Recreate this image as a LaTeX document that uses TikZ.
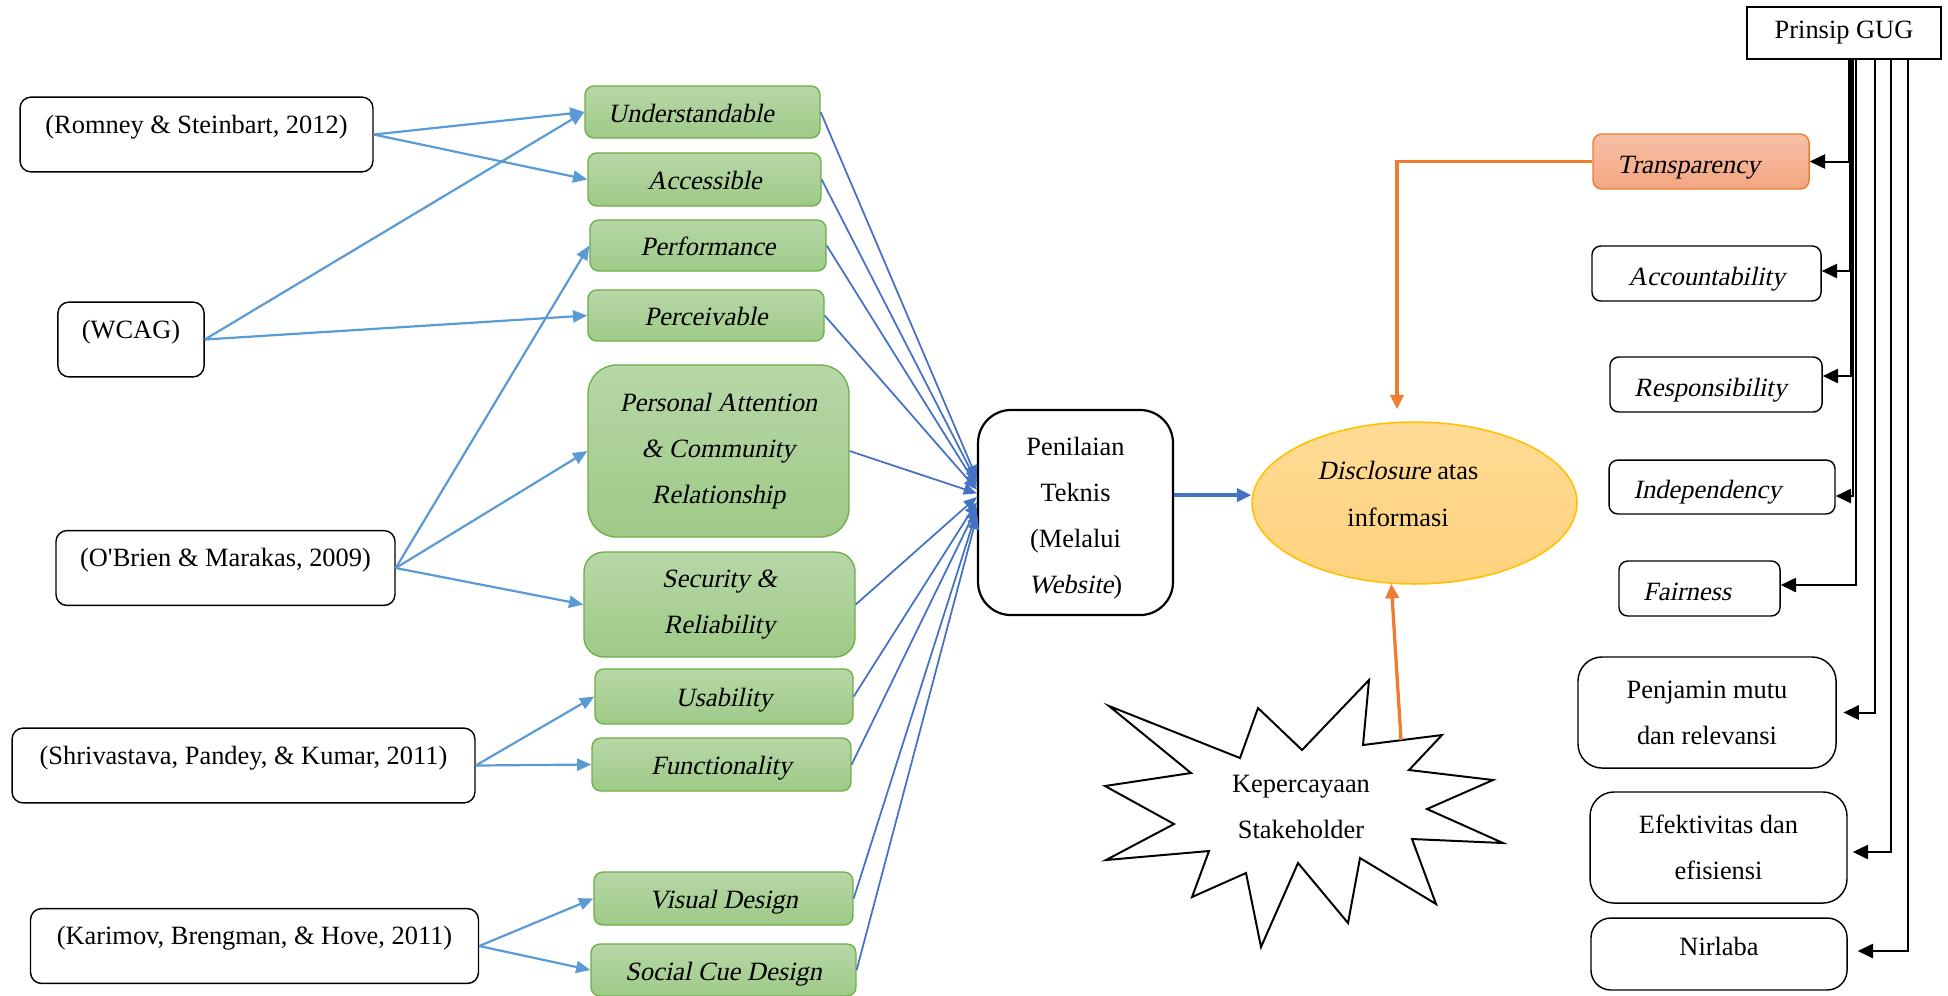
\documentclass[tikz,border=0pt]{standalone}
\usepackage{fontspec}
\setmainfont{Liberation Serif}[ItalicFont={Liberation Serif}, ItalicFeatures={FakeSlant=0.21}]
\usetikzlibrary{calc,shapes.geometric,arrows.meta}

\definecolor{refblue}{RGB}{91,155,213}
\definecolor{penblue}{RGB}{68,114,196}
\definecolor{accorange}{RGB}{237,125,49}
\definecolor{critgreen}{RGB}{112,173,71}
\definecolor{crittop}{RGB}{183,215,167}
\definecolor{critbot}{RGB}{158,202,135}
\definecolor{transtop}{RGB}{247,192,166}
\definecolor{transbot}{RGB}{243,166,130}
\definecolor{disctop}{RGB}{255,219,150}
\definecolor{discbot}{RGB}{255,210,125}
\definecolor{discline}{RGB}{255,192,0}

\newcommand{\diagfont}{\fontsize{12}{21}\selectfont}

\tikzset{
  refbox/.style={draw, line width=0.65pt, rounded corners=5pt, inner sep=0pt,
    text height=16.4pt, text depth=17.6pt, font=\diagfont},
  critbox/.style={draw=critgreen, line width=0.6pt, rounded corners=4pt,
    top color=crittop, bottom color=critbot, inner sep=0pt, align=center,
    font=\diagfont\itshape},
  oneline/.style={text height=9.5pt, text depth=0pt},
  gugbox/.style={draw, line width=0.65pt, rounded corners=4pt, inner sep=0pt,
    align=center, font=\diagfont\itshape, text height=10.5pt, text depth=0pt},
  leftin/.style={align=left, inner xsep=11pt},
  plainbox/.style={draw, line width=0.65pt, rounded corners=11pt, inner sep=0pt,
    align=center, font=\diagfont},
  refarrow/.style={-{Triangle[length=6.5pt,width=5.5pt]}, refblue, line width=1pt},
  penarrow/.style={-{Triangle[length=6pt,width=5pt]}, penblue, line width=0.8pt},
  gugarrow/.style={-{Triangle[length=7pt,width=6.5pt]}, line width=0.9pt},
  orangearrow/.style={-{Triangle[length=6.5pt,width=6pt]}, accorange, line width=1.5pt}
}

\begin{document}
\begin{tikzpicture}[x=0.4545pt, y=-0.4545pt]
\useasboundingbox (0,0) rectangle (1948,995);

% --- Sources ---
\node[refbox, minimum width=160.4pt] (rom) at (196.5,134.5) {(Romney \& Steinbart, 2012)};
\node[refbox, minimum width=66.4pt] (wcag) at (131,339.5) {(WCAG)};
\node[refbox, minimum width=154.1pt] (obr) at (225.5,568) {(O\textquotesingle Brien \& Marakas, 2009)};
\node[refbox, minimum width=210.4pt] (shr) at (243.5,765.5) {(Shrivastava, Pandey, \& Kumar, 2011)};
\node[refbox, minimum width=203.6pt] (kar) at (254.5,946) {(Karimov, Brengman, \& Hove, 2011)};

% --- Criteria (green) ---
\node[critbox, oneline, leftin, inner xsep=10.5pt, text width=85.8pt, minimum height=23.6pt] (und)
  at (702.5,112) {Understandable};
\node[critbox, oneline, minimum width=105.9pt, minimum height=24.1pt] (acc) at (704.5,179.5) {Accessible};
\node[critbox, oneline, minimum width=107.3pt, minimum height=23.2pt] (perf) at (708,245.5) {Performance};
\node[critbox, oneline, minimum width=107.3pt, minimum height=23.2pt] (perc) at (706,315.5) {Perceivable};
\node[critbox, minimum width=118.6pt, minimum height=78.2pt, rounded corners=13pt] (pers) at (718.5,451)
  {Personal Attention\\\& Community\\Relationship};
\node[critbox, minimum width=123.2pt, minimum height=47.7pt, rounded corners=9pt] (sec) at (719.5,604.5)
  {Security \&\\Reliability};
\node[critbox, oneline, minimum width=117.3pt, minimum height=25pt] (usa) at (724,696.5) {Usability};
\node[critbox, oneline, minimum width=117.7pt, minimum height=24.1pt] (fun) at (721.5,764.5) {Functionality};
\node[critbox, oneline, minimum width=117.7pt, minimum height=24.1pt] (vis) at (723.5,898.5) {Visual Design};
\node[critbox, oneline, minimum width=120.4pt, minimum height=23.6pt] (soc) at (723.5,970) {Social Cue Design};

% Source -> criteria
\foreach \s/\t in {rom/und, rom/acc, wcag/und, wcag/perc, obr/perf, obr/pers, obr/sec,
                   shr/usa, shr/fun, kar/vis, kar/soc} {
    \draw[refarrow] (\s.east) -- (\t.west);
}

% --- Assessment ---
\node[plainbox, line width=1pt, rounded corners=15pt, minimum width=88.6pt, minimum height=93.2pt] (pen)
  at (1075.5,512.5) {};
\node[align=center, font=\diagfont] (pentext) at (1075.5,518) {Penilaian\\Teknis\\(Melalui\\\textit{Website})};

\foreach \n/\a in {und/161, acc/163, perf/165, perc/167, pers/169, sec/171,
                   usa/174, fun/177, vis/179, soc/182} {
    \draw[penarrow] (\n.east) -- (pen.\a);
}

% Disclosure
\node[ellipse, draw=discline, line width=0.7pt, top color=disctop, bottom color=discbot,
  inner sep=0pt, minimum width=147.7pt, minimum height=73.6pt] (disc) at (1414.5,503) {};
\node[align=center, font=\diagfont] (disctext) at (1398,494) {\textit{Disclosure} atas\\informasi};

\draw[-{Triangle[length=6.5pt,width=6pt]}, penblue, line width=1.5pt] (pen.10) -- (pen.10 -| disc.west);

% --- Prinsip GUG ---
\node[draw, line width=0.65pt, inner sep=0pt, minimum width=88.2pt, minimum height=23.6pt, font=\diagfont]
  (gug) at (1844,33) {Prinsip GUG};

\node[gugbox, leftin, text width=76.2pt, draw=accorange, top color=transtop, bottom color=transbot,
  minimum height=25pt] (trans) at (1701,161.5) {Transparency};
\node[gugbox, minimum width=104.1pt, minimum height=25pt] (acct) at (1706.5,273.5) {Accountability};
\node[gugbox, leftin, text width=74.4pt, minimum height=25pt] (resp) at (1716,384.5) {Responsibility};
\node[gugbox, leftin, text width=80.7pt, minimum height=24.5pt] (indep) at (1722,487) {Independency};
\node[gugbox, leftin, text width=51.2pt, minimum height=25pt] (fair) at (1699.5,588.5) {Fairness};
\node[plainbox, minimum width=117.3pt, minimum height=50.5pt] (mutu) at (1707,712.5) {Penjamin mutu\\dan relevansi};
\node[plainbox, minimum width=116.8pt, minimum height=50.5pt] (efek) at (1718.5,847.5) {Efektivitas dan\\efisiensi};
\node[plainbox, rounded corners=9pt, minimum width=116.4pt, text height=17pt, text depth=15.7pt]
  (nirl) at (1719,954) {Nirlaba};

\foreach \t/\dx/\dy/\gap in {trans/5/0/0pt, acct/6/-2.5/0pt, resp/7/-8.5/0pt, indep/9/9/0pt,
                             fair/12/-3.5/0pt, mutu/31/0/3pt, efek/47/4.5/2.3pt, nirl/64/-3/4.5pt} {
    \draw[gugarrow, shorten >=\gap] ($(gug.south)+(\dx,0)$) |- ($(\t.east)+(0,\dy)$);
}

% Transparency -> disclosure
\draw[orangearrow] (trans.west) -| ($(disc.north)+(-17.5,-12)$);

% --- Stakeholder star ---
\filldraw[fill=white, line width=0.9pt, line join=miter]
  (1109,706) -- (1240,758) -- (1258,708) -- (1302,750) -- (1369,680) -- (1363,745)
  -- (1442,735) -- (1409,770) -- (1493,780) -- (1427,809) -- (1503,843) -- (1412,839)
  -- (1436,904) -- (1360,858) -- (1348,923) -- (1298,863) -- (1261,947) -- (1246,873)
  -- (1192,897) -- (1209,851) -- (1106,860) -- (1174,824) -- (1105,786) -- (1191,773) -- cycle;
\node[align=center, font=\diagfont] (trust) at (1301,807) {Kepercayaan\\Stakeholder};
\coordinate (trusttop) at (1401,740);

\draw[orangearrow] (trusttop) -- (disc.254);

\end{tikzpicture}
\end{document}
